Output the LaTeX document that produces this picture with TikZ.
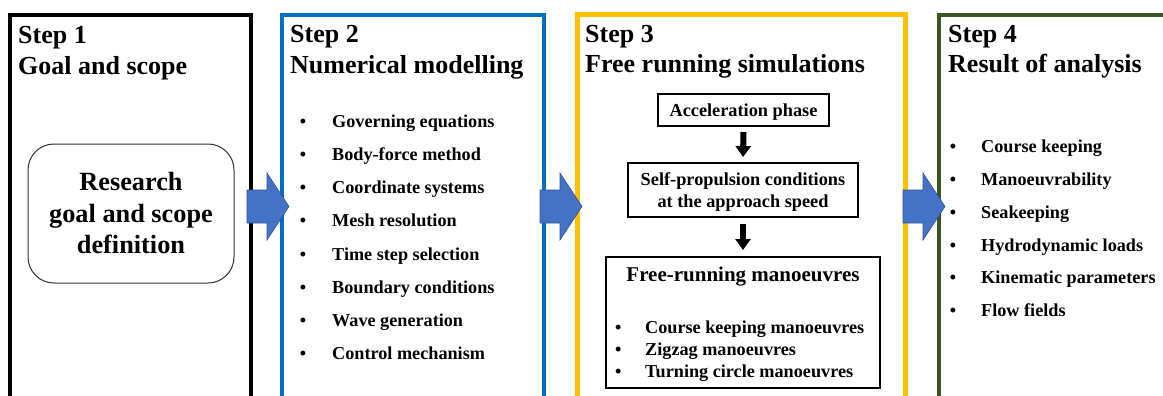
\documentclass[tikz,border=0pt]{standalone}
\usepackage{fontspec}
\setmainfont{Liberation Serif}
\usetikzlibrary{arrows.meta}
\definecolor{pblue}{HTML}{0070C0}
\definecolor{pyellow}{HTML}{FFC000}
\definecolor{pgreen}{HTML}{385723}
\definecolor{arrowblue}{HTML}{4472C4}
\definecolor{arrowedge}{HTML}{2F5597}
\begin{document}
\begin{tikzpicture}[x=1pt,y=-1pt,
  panel/.style={rectangle, minimum height=430, anchor=north west, inner sep=0, outer sep=0, line width=4pt},
  ttl/.style={anchor=base west, inner sep=0, font=\fontsize{26}{31}\selectfont\bfseries},
  itm/.style={anchor=base west, inner sep=0, font=\fontsize{18.2}{22}\selectfont\bfseries},
  bul/.style={anchor=base, inner sep=0, font=\fontsize{18}{22}\selectfont\bfseries},
  sbox/.style={draw, line width=1.1pt, inner sep=0, outer sep=0, font=\fontsize{18.3}{21.6}\selectfont\bfseries, align=center, text depth=0pt},
  blk/.style={fill=arrowblue, draw=arrowedge, line width=0.6pt},
  down/.style={line width=6pt, -{Triangle[width=15pt,length=11pt]}}
]
\useasboundingbox (0,0) rectangle (1163,396);
\clip (0,0) rectangle (1163,396);
\fill[white] (0,0) rectangle (1163,396);

% panels
\node[panel, draw=black, minimum width=240.5] (p1) at (10,15.5) {};
\node[panel, draw=pblue, minimum width=262.3] (p2) at (281.7,14.7) {};
\node[panel, draw=pyellow, line width=5pt, minimum width=327.5] (p3) at (577.5,15) {};
\node[panel, draw=pgreen, minimum width=260] (p4) at (939,15) {};

% titles
\node[ttl] (t1a) at (18,43.5) {Step 1};
\node[ttl] (t1b) at (18,75) {Goal and scope};
\node[ttl] (t2a) at (290,43) {Step 2};
\node[ttl] (t2b) at (290,74) {Numerical modelling};
\node[ttl] (t3a) at (585,42.5) {Step 3};
\node[ttl] (t3b) at (585,73) {Free running simulations};
\node[ttl] (t4a) at (948,43) {Step 4};
\node[ttl] (t4b) at (948,73) {Result of analysis};

% step 1
\node[draw=black!80, line width=1pt, rounded corners=26pt, minimum width=206, minimum height=139,
  align=center, font=\fontsize{26.3}{31.5}\selectfont\bfseries] (r) at (131,213.5)
  {Research\\goal and scope\\definition};

% step 2 list
\foreach \t [count=\i] in {Governing equations, Body-force method, Coordinate systems, Mesh resolution,
  Time step selection, Boundary conditions, Wave generation, Control mechanism}{
  \node[bul] (b2\i) at (303,127.3+33.2*\i-33.2) {•};
  \node[itm] (s2\i) at (332,127.3+33.2*\i-33.2) {\t};
}

% step 3
\node[sbox, minimum width=171, minimum height=32] (acc) at (743.5,110) {Acceleration phase};
\node[sbox, minimum width=230, minimum height=54] (sp) at (743,190) {Self-propulsion conditions\\at the approach speed};
\node[draw, line width=1.1pt, inner sep=0, outer sep=0, minimum width=274, minimum height=131] (fr) at (743,322.5) {};
\node[anchor=base, inner sep=0, font=\fontsize{21}{24}\selectfont\bfseries] (frt) at (743,281.7) {Free-running manoeuvres};
\foreach \t [count=\i] in {Course keeping manoeuvres, Zigzag manoeuvres, Turning circle manoeuvres}{
  \node[bul] (b3\i) at (618.3,333.3+22.2*\i-22.2) {•};
  \node[itm] (s3\i) at (645,333.3+22.2*\i-22.2) {\t};
}
\draw[down] ([yshift=-6pt]acc.south) -- ([yshift=6pt]sp.north);
\draw[down] ([yshift=-7pt]sp.south) -- ([yshift=7pt]fr.north);

% step 4 list
\foreach \t [count=\i] in {Course keeping, Manoeuvrability, Seakeeping, Hydrodynamic loads,
  Kinematic parameters, Flow fields}{
  \node[bul] (b4\i) at (953,152.7+32.8*\i-32.8) {•};
  \node[itm] (s4\i) at (981,152.7+32.8*\i-32.8) {\t};
}

% block arrows between panels
\coordinate (a1) at (247,206.5);
\coordinate (a2) at (540,206.5);
\coordinate (a3) at (903,206.5);
\foreach \a in {a1,a2,a3}{
  \draw[blk] (\a) ++(0,-16.5) -- ++(20,0) -- ++(0,-17) -- ++(22,33.5) -- ++(-22,33.5)
    -- ++(0,-17) -- ++(-20,0) -- cycle;
}
\end{tikzpicture}
\end{document}
